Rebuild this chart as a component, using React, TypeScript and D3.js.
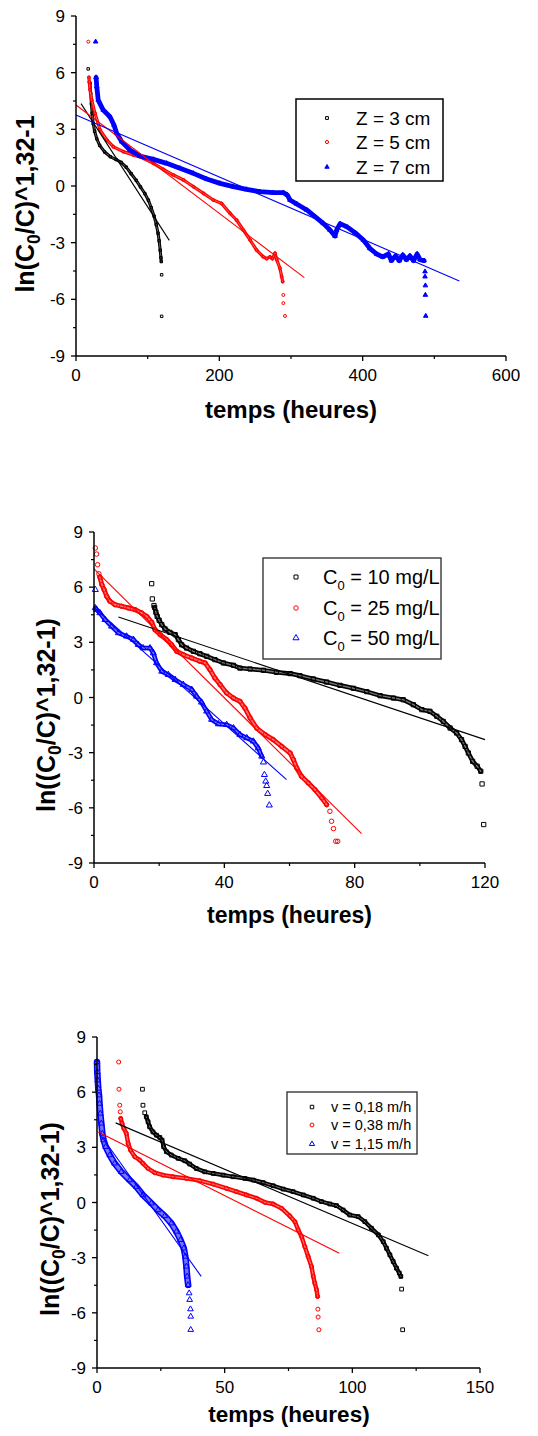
import React from 'react';
import * as d3 from 'd3';

type Pt = [number, number];

// ---------------- shared ticks ----------------
const yTickValues = [-9, -6, -3, 0, 3, 6, 9];
const yMinorValues = [-7.5, -4.5, -1.5, 1.5, 4.5, 7.5];

// ---------------- Panel A : depth Z ----------------
const depthXTicks = [0, 200, 400, 600];
const depthXMinor = [100, 300, 500];
const depthLabels = ['Z = 3 cm', 'Z = 5 cm', 'Z = 7 cm'];

const z3Head: Pt[] = [[17, 6.2]];
const z3Body: Pt[] = [[19.5, 5.45], [20.5, 4.9], [21.5, 4.35], [22.5, 3.85], [24, 3.3], [26, 2.9], [29, 2.5], [33, 2.15], [40, 1.8], [48, 1.55], [56, 1.4], [63, 1.25], [70, 1.0], [77, 0.65], [84, 0.3], [90, -0.05], [96, -0.4], [101, -0.75], [105, -1.15], [109, -1.6], [112, -2.05], [114.5, -2.5], [116, -2.9], [117.5, -3.4], [118.5, -3.8], [119, -4.0]];
const z3Tail: Pt[] = [[119.5, -4.7], [119.5, -6.9]];
const z3Fit: Pt[] = [[7, 4.36], [130.2, -2.88]];

const z5Head: Pt[] = [[17.2, 7.64]];
const z5Body: Pt[] = [[18, 5.75], [18.5, 5.5], [19.5, 5.1], [22, 4.55], [26.5, 3.85], [33.5, 2.97], [43, 2.44], [52, 2.08], [66, 1.82], [80, 1.64], [94, 1.47], [108, 1.2], [122, 0.88], [136, 0.58], [150, 0.32], [164, -0.04], [178, -0.39], [191.6, -0.74], [203, -0.92], [215, -1.45], [224, -1.8], [233.5, -2.33], [243, -2.86], [252, -3.39], [261, -3.74], [266, -3.85], [270.7, -3.75], [274, -3.85], [277.7, -3.56], [280, -3.9], [284.6, -4.36], [287, -4.8], [288.4, -5.06]];
const z5Tail: Pt[] = [[289.3, -5.77], [289.3, -6.2], [291.6, -6.88]];
const z5Fit: Pt[] = [[0, 4.29], [318.6, -4.85]];

const z7Head: Pt[] = [[27.4, 7.64]];
const z7Body: Pt[] = [[28, 5.75], [29, 5.26], [31, 4.55], [38, 4.02], [47.4, 3.67], [53, 3.23], [56.7, 2.79], [63.7, 2.35], [75.3, 1.9], [89.3, 1.59], [108, 1.41], [126.5, 1.2], [145, 0.94], [163.7, 0.67], [182.3, 0.37], [201, 0.14], [219.5, -0.03], [238, -0.18], [256.7, -0.3], [275.3, -0.35], [289.3, -0.35], [295, -0.48], [298.6, -0.74], [308, -0.95], [322, -1.27], [333.5, -1.62], [345, -1.98], [354.4, -2.33], [361.4, -2.65], [363.7, -2.33], [368.4, -2.0], [377.7, -2.15], [389.3, -2.47], [401, -2.86], [410, -3.3], [419.5, -3.6], [428, -3.75], [436, -3.6], [440, -3.95], [446, -3.7], [451, -3.95], [456, -3.65], [461, -3.9], [466, -3.7], [471, -3.95], [476, -3.6], [480, -3.9], [485.6, -3.95]];
const z7Tail: Pt[] = [[487, -4.53], [487, -4.8], [487.5, -5.27], [487.5, -5.77], [488, -6.88]];
const z7Fit: Pt[] = [[0, 3.76], [534.9, -5.03]];

// ---------------- Panel B : initial concentration C0 ----------------
const concXTicks = [0, 40, 80, 120];
const concXMinor = [20, 60, 100];
const concLabels = ['10 mg/L', '25 mg/L', '50 mg/L'];

const c10Head: Pt[] = [[17.7, 6.19], [17.9, 5.36], [18.4, 5.0]];
const c10Body: Pt[] = [[18.6, 4.9], [19, 4.63], [19.4, 4.41], [20, 4.2], [20.8, 3.96], [21.8, 3.73], [23.3, 3.54], [24.9, 3.42], [25.9, 3.15], [26.9, 2.87], [28.4, 2.69], [30.5, 2.51], [32.5, 2.38], [34.6, 2.24], [37.1, 2.06], [39.7, 1.88], [42.8, 1.75], [44.8, 1.6], [47.9, 1.55], [52, 1.48], [56, 1.37], [60.2, 1.3], [63.2, 1.19], [67.3, 1.01], [71.4, 0.84], [75.5, 0.66], [79.6, 0.5], [83.7, 0.32], [87.8, 0.1], [91.9, -0.03], [94.9, -0.12], [98, -0.39], [100.6, -0.66], [103.1, -0.75], [105.2, -1.02], [107.2, -1.3], [109.3, -1.66], [111.3, -1.93], [112.8, -2.29], [113.9, -2.66], [114.9, -3.02], [116.2, -3.47], [117.6, -3.74], [118.7, -4.01]];
const c10Tail: Pt[] = [[119.1, -4.7], [119.6, -6.91]];
const c10Fit: Pt[] = [[7.5, 4.38], [120, -2.29]];

const c25Head: Pt[] = [[0.4, 8.13], [0.8, 7.8], [1.1, 7.22], [1.5, 6.73]];
const c25Body: Pt[] = [[1.8, 6.55], [2.4, 6.14], [3.1, 5.86], [3.9, 5.5], [4.9, 5.23], [6.4, 5.05], [8.5, 4.96], [10.5, 4.87], [12.6, 4.78], [14.6, 4.6], [16.2, 4.41], [17.7, 4.09], [18.7, 3.69], [20.3, 3.42], [22.3, 3.15], [23.8, 2.87], [25.4, 2.51], [27.4, 2.33], [30, 2.15], [32.5, 1.97], [34.1, 1.88], [35.6, 1.51], [37.1, 1.06], [38.7, 0.7], [40.7, 0.25], [42.8, -0.03], [44.8, -0.21], [46.3, -0.57], [47.9, -1.11], [49.9, -1.66], [52.5, -2.02], [55, -2.29], [57.6, -2.66], [60.2, -3.02], [61.2, -3.38], [62.2, -3.83], [63.7, -4.29], [65.8, -4.65], [67.8, -5.01], [69.9, -5.46], [71.4, -5.83]];
const c25Tail: Pt[] = [[72.4, -6.19], [72.9, -6.73], [73.5, -7.13], [74.2, -7.82], [74.8, -7.82]];
const c25Fit: Pt[] = [[0, 7.0], [82.1, -7.4]];

const c50Head: Pt[] = [[0.4, 5.86]];
const c50Body: Pt[] = [[0.4, 4.87], [0.8, 4.78], [1.8, 4.6], [3.4, 4.23], [5.4, 3.87], [7.5, 3.51], [10, 3.33], [12.1, 3.15], [13.6, 2.87], [15.1, 2.69], [17.2, 2.69], [18.2, 2.42], [19.2, 1.88], [20.8, 1.42], [22.8, 1.24], [24.9, 0.97], [27.4, 0.7], [30, 0.43], [31.5, 0.06], [33, -0.26], [34.6, -0.75], [36.1, -1.2], [38.2, -1.44], [40.7, -1.48], [42.8, -1.66], [44.8, -2.02], [46.9, -2.2], [48.9, -2.38], [50.4, -2.75], [51.5, -3.2]];
const c50Tail: Pt[] = [[52, -3.52], [52.3, -4.2], [52.7, -4.56], [53, -4.8], [53.3, -5.23], [53.8, -5.86]];
const c50Fit: Pt[] = [[0, 4.9], [59.1, -4.47]];

// ---------------- Panel C : velocity v ----------------
const velXTicks = [0, 50, 100, 150];
const velXMinor = [25, 75, 125];
const velLabels = ['v = 0,18 m/h', 'v = 0,38 m/h', 'v = 1,15 m/h'];

const v018Head: Pt[] = [[17.8, 6.16], [18, 5.29], [18.7, 4.88]];
const v018Body: Pt[] = [[19.3, 4.66], [20, 4.39], [20.6, 4.12], [21.9, 3.84], [23.3, 3.66], [24.6, 3.54], [25.5, 3.39], [26.1, 3.03], [27.2, 2.76], [29.1, 2.58], [31.8, 2.4], [34.4, 2.27], [36.3, 2.09], [38.9, 1.85], [42.2, 1.67], [45.5, 1.58], [49.4, 1.49], [53.3, 1.4], [57.9, 1.31], [61.2, 1.22], [65.1, 1.08], [69, 0.91], [72.9, 0.73], [76.8, 0.59], [80.8, 0.41], [84.7, 0.23], [87.9, 0.05], [91.2, -0.08], [93.8, -0.17], [96.4, -0.41], [99, -0.68], [102.3, -0.77], [104.9, -1.04], [107.5, -1.4], [110.2, -1.76], [112.1, -2.13], [113.4, -2.49], [114.7, -2.85], [116, -3.21], [117.3, -3.57], [118.4, -3.84], [119, -4.02]];
const v018Tail: Pt[] = [[119.3, -4.71], [119.7, -6.92]];
const v018Fit: Pt[] = [[7.3, 4.33], [129.8, -2.9]];

const v038Head: Pt[] = [[8.5, 7.64], [8.6, 6.16], [8.9, 5.29], [9.1, 4.93]];
const v038Body: Pt[] = [[9.3, 4.57], [9.8, 4.3], [10.5, 4.03], [11.5, 3.75], [12.2, 3.21], [13.1, 2.85], [14.8, 2.49], [16.7, 2.31], [18, 2.13], [20, 1.85], [22.6, 1.62], [25.9, 1.49], [29.8, 1.4], [35, 1.31], [40.2, 1.19], [45.5, 1.0], [50.7, 0.77], [54.6, 0.59], [58.5, 0.41], [62.5, 0.23], [65.7, 0.01], [69, -0.08], [72.3, -0.32], [75.5, -0.73], [77.5, -1.04], [78.8, -1.49], [80.1, -1.85], [81.4, -2.4], [82.7, -2.94], [84, -3.48], [84.7, -4.02], [85.3, -4.39], [86, -4.75], [86.4, -5.11]];
const v038Tail: Pt[] = [[86.5, -5.8], [86.6, -6.23], [86.9, -6.92]];
const v038Fit: Pt[] = [[0.5, 3.84], [94.9, -2.76]];

const v115Head: Pt[] = [];
const v115Body: Pt[] = [[0, 7.64], [0.1, 7.1], [0.3, 6.65], [0.5, 6.2], [0.8, 5.83], [1.0, 5.38], [1.3, 4.84], [1.7, 4.3], [2.1, 3.75], [2.6, 3.39], [3.4, 3.03], [5, 2.58], [6.9, 2.13], [9.5, 1.67], [12.8, 1.22], [15.4, 0.86], [18, 0.41], [21.3, -0.04], [23.9, -0.41], [26.5, -0.73], [29.1, -1.13], [31.1, -1.58], [32.7, -2.03], [34, -2.49], [34.6, -2.94], [35, -3.48], [35.3, -4.02], [35.7, -4.48]];
const v115Tail: Pt[] = [[36.1, -4.93], [36.3, -5.29], [36.6, -5.8], [36.7, -6.2], [36.7, -6.92]];
const v115Fit: Pt[] = [[0.8, 3.79], [40.8, -4.02]];

// ---------------- rendering ----------------
const FONT = '"Liberation Sans", Arial, Helvetica, sans-serif';
type Shape = 'square' | 'circle' | 'triangle';

interface SeriesCfg {
  head: Pt[]; body: Pt[]; tail: Pt[]; fit: Pt[];
  color: string; shape: Shape; filled: boolean;
  band: number; size: number;
}

interface PanelCfg {
  left: number; right: number; top: number; bottom: number;
  xMax: number; xTicks: number[]; xMinor: number[];
  series: SeriesCfg[];
  tickFont: number;
  xTitle: { x: number; y: number; size: number };
  yTitle: { x: number; y: number; size: number; outerParen: boolean };
  legend: { x0: number; y0: number; x1: number; y1: number; rows: number[]; symX: number; textX: number; font: number; stroke: string; symSize: number };
  legendText: (i: number, font: number) => React.ReactNode;
}

const symType = (s: Shape) => (s === 'square' ? d3.symbolSquare : s === 'circle' ? d3.symbolCircle : d3.symbolTriangle);

function Marker({ x, y, s }: { x: number; y: number; s: SeriesCfg }) {
  const d = d3.symbol().type(symType(s.shape)).size(s.size)() || '';
  return (
    <path d={d} transform={`translate(${x},${y})`} fill={s.filled ? s.color : 'none'} stroke={s.color} strokeWidth={1} />
  );
}

function Panel({ cfg }: { cfg: PanelCfg }) {
  const x = d3.scaleLinear().domain([0, cfg.xMax]).range([cfg.left, cfg.right]);
  const y = d3.scaleLinear().domain([-9, 9]).range([cfg.bottom, cfg.top]);
  const line = d3.line<Pt>().x((d) => x(d[0])).y((d) => y(d[1]));
  const yt = cfg.yTitle;
  return (
    <g fontFamily={FONT}>
      {/* data */}
      {cfg.series.map((s, i) => (
        <g key={'s' + i}>
          <path d={line(s.body) || ''} fill="none" stroke={s.color} strokeWidth={s.band} strokeLinejoin="round" strokeLinecap="round" />
          {!s.filled && (
            <path d={line(s.body) || ''} fill="none" stroke="#fff" strokeOpacity={0.45} strokeWidth={Math.max(0.8, s.band - 3.2)} strokeLinejoin="round" strokeLinecap="round" />
          )}
          {[...s.head, ...s.body, ...s.tail].map((p, j) => (
            <Marker key={j} x={x(p[0])} y={y(p[1])} s={s} />
          ))}
        </g>
      ))}
      {/* fits */}
      {cfg.series.map((s, i) => (
        <path key={'f' + i} d={line(s.fit) || ''} fill="none" stroke={s.color} strokeWidth={1.1} />
      ))}
      {/* axes */}
      <line x1={cfg.left} x2={cfg.left} y1={cfg.top} y2={cfg.bottom} stroke="#000" strokeWidth={1.5} />
      <line x1={cfg.left} x2={cfg.right} y1={cfg.bottom} y2={cfg.bottom} stroke="#000" strokeWidth={1.5} />
      {yTickValues.map((v) => (
        <g key={'yt' + v}>
          <line x1={cfg.left - 5} x2={cfg.left} y1={y(v)} y2={y(v)} stroke="#000" strokeWidth={1.3} />
          <text x={cfg.left - 11} y={y(v)} dy="0.36em" textAnchor="end" fontSize={cfg.tickFont}>{v}</text>
        </g>
      ))}
      {yMinorValues.map((v) => (
        <line key={'ym' + v} x1={cfg.left - 3} x2={cfg.left} y1={y(v)} y2={y(v)} stroke="#000" strokeWidth={1.2} />
      ))}
      {cfg.xTicks.map((v) => (
        <g key={'xt' + v}>
          <line x1={x(v)} x2={x(v)} y1={cfg.bottom} y2={cfg.bottom + 5} stroke="#000" strokeWidth={1.3} />
          <text x={x(v)} y={cfg.bottom + 25} textAnchor="middle" fontSize={cfg.tickFont}>{v}</text>
        </g>
      ))}
      {cfg.xMinor.map((v) => (
        <line key={'xm' + v} x1={x(v)} x2={x(v)} y1={cfg.bottom} y2={cfg.bottom + 3} stroke="#000" strokeWidth={1.2} />
      ))}
      {/* titles */}
      <text x={cfg.xTitle.x} y={cfg.xTitle.y} textAnchor="middle" fontWeight="bold" fontSize={cfg.xTitle.size}>temps (heures)</text>
      <text transform={`translate(${yt.x},${yt.y}) rotate(-90)`} textAnchor="middle" fontWeight="bold" fontSize={yt.size}>
        {yt.outerParen ? 'ln((C' : 'ln(C'}
        <tspan fontSize={yt.size * 0.7} dy={yt.size * 0.22}>0</tspan>
        <tspan dy={-yt.size * 0.22}>{yt.outerParen ? '/C)^1,32-1)' : '/C)^1,32-1'}</tspan>
      </text>
      {/* legend */}
      <rect x={cfg.legend.x0} y={cfg.legend.y0} width={cfg.legend.x1 - cfg.legend.x0} height={cfg.legend.y1 - cfg.legend.y0} fill="#fff" stroke={cfg.legend.stroke} strokeWidth={1.5} />
      {cfg.series.map((s, i) => (
        <g key={'l' + i}>
          <Marker x={cfg.legend.symX} y={cfg.legend.rows[i]} s={{ ...s, size: cfg.legend.symSize }} />
          <text x={cfg.legend.textX} y={cfg.legend.rows[i]} dy="0.36em" fontSize={cfg.legend.font}>{cfg.legendText(i, cfg.legend.font)}</text>
        </g>
      ))}
    </g>
  );
}

const BLACK = '#000000';
const RED = '#ff0000';
const BLUE = '#0000ff';

const panelA: PanelCfg = {
  left: 76, right: 506, top: 16, bottom: 356,
  xMax: 600, xTicks: depthXTicks, xMinor: depthXMinor, tickFont: 17,
  series: [
    { head: z3Head, body: z3Body, tail: z3Tail, fit: z3Fit, color: BLACK, shape: 'square', filled: false, band: 3, size: 6 },
    { head: z5Head, body: z5Body, tail: z5Tail, fit: z5Fit, color: RED, shape: 'circle', filled: false, band: 3.2, size: 7 },
    { head: z7Head, body: z7Body, tail: z7Tail, fit: z7Fit, color: BLUE, shape: 'triangle', filled: true, band: 4.8, size: 9 },
  ],
  xTitle: { x: 291, y: 418, size: 24 },
  yTitle: { x: 34, y: 204, size: 25, outerParen: false },
  legend: { x0: 296, y0: 99, x1: 443, y1: 181, rows: [118, 142, 167], symX: 327, textX: 356, font: 19, stroke: '#000', symSize: 8 },
  legendText: (i) => depthLabels[i],
};

const panelB: PanelCfg = {
  left: 94, right: 485, top: 532, bottom: 863,
  xMax: 120, xTicks: concXTicks, xMinor: concXMinor, tickFont: 17,
  series: [
    { head: c10Head, body: c10Body, tail: c10Tail, fit: c10Fit, color: BLACK, shape: 'square', filled: false, band: 4.6, size: 18 },
    { head: c25Head, body: c25Body, tail: c25Tail, fit: c25Fit, color: RED, shape: 'circle', filled: false, band: 4.8, size: 16 },
    { head: c50Head, body: c50Body, tail: c50Tail, fit: c50Fit, color: BLUE, shape: 'triangle', filled: false, band: 4.6, size: 16 },
  ],
  xTitle: { x: 289.5, y: 923, size: 23 },
  yTitle: { x: 55, y: 715, size: 25, outerParen: true },
  legend: { x0: 263, y0: 558, x1: 441, y1: 659, rows: [577, 608, 638], symX: 296, textX: 323, font: 20, stroke: '#444', symSize: 16 },
  legendText: (i, f) => (
    <>
      C<tspan fontSize={f * 0.65} dy={f * 0.3}>0</tspan>
      <tspan dy={-f * 0.3}>{' = ' + concLabels[i]}</tspan>
    </>
  ),
};

const panelC: PanelCfg = {
  left: 97, right: 480, top: 1037, bottom: 1368,
  xMax: 150, xTicks: velXTicks, xMinor: velXMinor, tickFont: 17,
  series: [
    { head: v018Head, body: v018Body, tail: v018Tail, fit: v018Fit, color: BLACK, shape: 'square', filled: false, band: 4.2, size: 14 },
    { head: v038Head, body: v038Body, tail: v038Tail, fit: v038Fit, color: RED, shape: 'circle', filled: false, band: 4.4, size: 13 },
    { head: v115Head, body: v115Body, tail: v115Tail, fit: v115Fit, color: BLUE, shape: 'triangle', filled: false, band: 6.5, size: 14 },
  ],
  xTitle: { x: 289, y: 1422, size: 22.5 },
  yTitle: { x: 59, y: 1219, size: 25, outerParen: true },
  legend: { x0: 287, y0: 1092, x1: 417, y1: 1154, rows: [1107, 1125, 1144], symX: 312, textX: 331, font: 14.5, stroke: '#444', symSize: 12 },
  legendText: (i) => velLabels[i],
};

export default function App() {
  return (
    <svg
      width={538}
      height={1436}
      viewBox="0 0 538 1436"
      style={{ position: 'absolute', left: 0, top: 0, background: '#fff', display: 'block' }}
    >
      <rect x={0} y={0} width={538} height={1436} fill="#fff" />
      <Panel cfg={panelA} />
      <Panel cfg={panelB} />
      <Panel cfg={panelC} />
    </svg>
  );
}
